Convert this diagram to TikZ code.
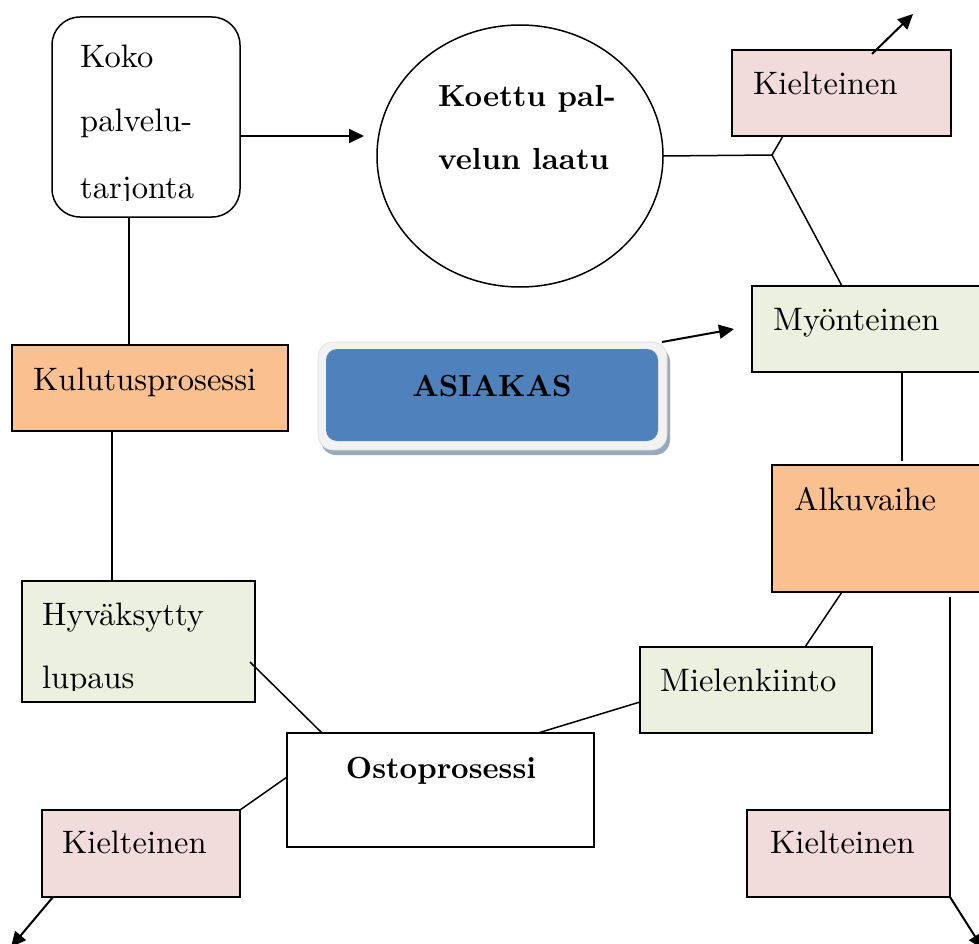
\documentclass[tikz,border=0pt]{standalone}
\usepackage{fontspec}
\setmainfont{lmroman10-regular.otf}[BoldFont=lmroman10-bold.otf]
\usetikzlibrary{arrows.meta,calc,shapes.geometric}

\definecolor{pinkfill}{HTML}{F2DCDB}
\definecolor{greenfill}{HTML}{EBF1DE}
\definecolor{orangefill}{HTML}{FAC090}
\definecolor{bluefill}{HTML}{4F81BD}
\definecolor{bandfill}{HTML}{F2F2F2}
\definecolor{banddraw}{HTML}{D9D9D9}
\definecolor{shadowfill}{HTML}{98A8BE}

\newcommand\bigtxt{\fontsize{32.5}{38}\selectfont}
\newcommand\bigbold{\fontsize{30.5}{36}\selectfont\bfseries}

\tikzset{
  box/.style={draw=black, line width=1.5pt, rectangle, inner sep=0pt,
              outer sep=0pt, anchor=north west},
  lbl/.style={anchor=base west, inner sep=0pt, font=\bigtxt},
  blbl/.style={anchor=base, inner sep=0pt, font=\bigbold},
  conn/.style={line width=1.5pt},
  arr/.style={line width=2pt, -{Triangle[length=15pt,width=14pt]}},
}

\begin{document}
\begin{tikzpicture}[x=1pt,y=-1pt]
\useasboundingbox (0,0) rectangle (979,944);
\clip (0,0) rectangle (979,944);

% --- upper left: offering box ---
\node[box, rounded corners=28pt, minimum width=188pt, minimum height=200pt] (koko) at (52,17) {};
\node[lbl] (kokoA) at (80,68) {Koko};
\node[lbl] (kokoB) at (80,132) {palvelu-};
\begin{scope}
  \clip (52,17) rectangle (240,200.5);
  \node[lbl] (kokoC) at (80,198) {tarjonta};
\end{scope}

% --- perceived quality ellipse ---
\node[draw, ellipse, line width=1.5pt, inner sep=0pt, outer sep=0pt,
      minimum width=286pt, minimum height=262pt] (circ) at (520,156) {};
\node[lbl, font=\bigbold] (circA) at (438,107) {Koettu pal-};
\node[lbl, font=\bigbold] (circB) at (438,170) {velun laatu};

% --- right column ---
\node[box, fill=pinkfill, minimum width=219pt, minimum height=86pt] (kielA) at (732,50) {};
\node[lbl] (kielAt) at (753,95) {Kielteinen};

\node[box, fill=greenfill, minimum width=240pt, minimum height=86pt] (myon) at (752,286) {};
\node[lbl] (myont) at (773,330) {Myönteinen};

\node[box, fill=orangefill, minimum width=220pt, minimum height=127pt] (alku) at (772,465) {};
\node[lbl] (alkut) at (794,510) {Alkuvaihe};

\node[box, fill=greenfill, minimum width=232pt, minimum height=86pt] (miel) at (640,647) {};
\node[lbl] (mielt) at (660,691) {Mielenkiinto};

\node[box, fill=pinkfill, minimum width=203pt, minimum height=87pt] (kielC) at (747,810) {};
\node[lbl] (kielCt) at (770,853) {Kielteinen};

% --- left column ---
\node[box, fill=orangefill, minimum width=276pt, minimum height=86pt] (kulu) at (12,345) {};
\node[lbl] (kulut) at (33,390) {Kulutusprosessi};

\node[box, fill=greenfill, minimum width=233pt, minimum height=121pt] (hyv) at (22,581) {};
\node[lbl] (hyvA) at (42,625) {Hyväksytty};
\begin{scope}
  \clip (22,581) rectangle (255,690.5);
  \node[lbl] (hyvB) at (42,688) {lupaus};
\end{scope}

\node[box, fill=pinkfill, minimum width=198pt, minimum height=87pt] (kielB) at (42,810) {};
\node[lbl] (kielBt) at (62,853) {Kielteinen};

% --- purchase process ---
\node[box, fill=white, minimum width=307pt, minimum height=114pt] (osto) at (287,733) {};
\node[blbl] (ostot) at (441,778) {Ostoprosessi};

% --- customer box with band and shadow ---
\node[anchor=north west, inner sep=0pt, outer sep=0pt, fill=shadowfill, rounded corners=15pt,
      minimum width=349pt, minimum height=108pt] (asiShadow) at (321,347) {};
\node[anchor=north west, inner sep=0pt, outer sep=0pt, fill=bandfill, draw=banddraw, line width=0.6pt,
      rounded corners=15pt, minimum width=349pt, minimum height=108pt] (asiBand) at (318,342) {};
\node[anchor=north west, inner sep=0pt, outer sep=0pt, fill=bluefill, rounded corners=11pt,
      minimum width=332pt, minimum height=92pt] (asi) at (326,349) {};
\node[blbl] (asit) at (492,396) {ASIAKAS};

% --- connectors ---
\coordinate (jn) at (772,155);
\draw[conn] (circ.east) -- (jn);
\draw[conn] (jn) -- ($(kielA.south west)+(51,0)$);
\draw[conn] (jn) -- ($(myon.north west)+(90,0)$);
\draw[conn] ($(myon.south west)+(150,0)$) -- ($(alku.north west)+(130,-4)$);
\draw[conn] ($(alku.south west)+(70,0)$) -- ($(miel.north west)+(165,0)$);
\draw[conn] ($(alku.south west)+(178,5)$) -- (kielC.north east);
\draw[conn] ($(miel.north west)+(0,55)$) -- ($(osto.north west)+(251,0)$);
\draw[conn] ($(hyv.north west)+(228,81)$) -- ($(osto.north west)+(35,0)$);
\draw[conn] ($(osto.north west)+(0,44)$) -- (kielB.north east);
\draw[conn] ($(kulu.south west)+(100,0)$) -- ($(hyv.north west)+(90,0)$);
\draw[conn] ($(koko.south west)+(77,0)$) -- ($(kulu.north west)+(117,0)$);
\draw[conn] (kielC.north east) -- (kielC.south east);

% --- arrows ---
\coordinate (outA) at (913,14);
\coordinate (outB) at (11,947);
\coordinate (outC) at (983,949);
\draw[arr] ($(koko.north east)+(0,119)$) -- ($(circ.west)+(-13,-20)$);
\draw[arr] ($(asiBand.north east)+(-5,0)$) -- ($(myon.west)+(-18,0)$);
\draw[arr] ($(kielA.north west)+(140,4)$) -- (outA);
\draw[arr] ($(kielB.south west)+(11,0)$) -- (outB);
\draw[arr] (kielC.south east) -- (outC);
\end{tikzpicture}
\end{document}
